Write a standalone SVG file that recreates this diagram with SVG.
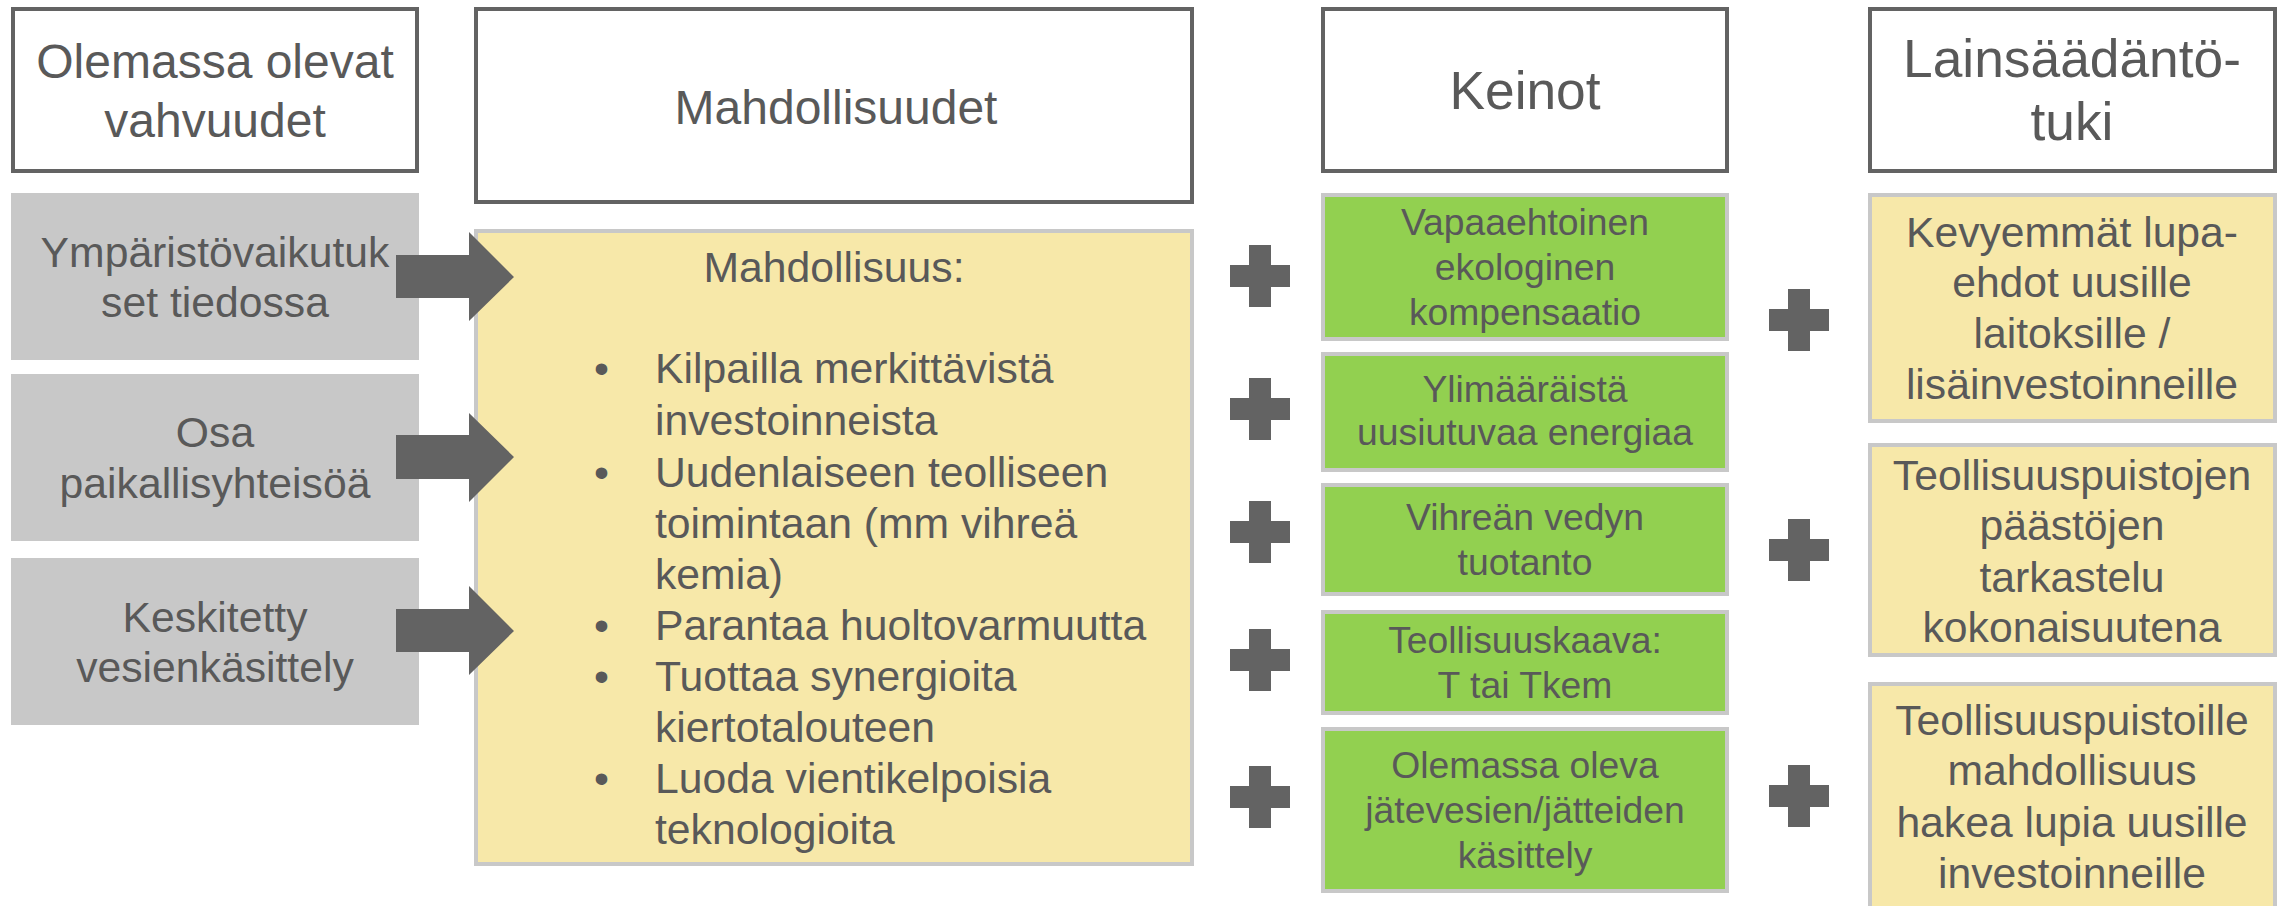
<svg xmlns="http://www.w3.org/2000/svg" xmlns:xlink="http://www.w3.org/1999/xlink" width="2285" height="906" viewBox="0 0 2285 906">
<style>
text{font-family:"Liberation Sans",Arial,sans-serif;fill:#595959;}
.c{text-anchor:middle;}
.hdr{fill:#ffffff;stroke:#636363;stroke-width:4;}
.gray{fill:#c8c8c8;}
.yel{fill:#f7e8a9;stroke:#c8c8c8;stroke-width:4;}
.grn{fill:#92d050;stroke:#c8c8c8;stroke-width:4;}
.h48{font-size:48px;}
.h53{font-size:53.3px;}
.t43{font-size:42.7px;}
.t37{font-size:37.3px;}
.arr{fill:#636363;}
</style>
<defs>
<path id="plus" d="M-11,-31 H11 V-11 H30 V11 H11 V31 H-11 V11 H-30 V-11 H-11 Z" fill="#636363"/>
</defs>
<rect width="2285" height="906" fill="#ffffff"/>

<g id="hdr-vahvuudet">
<rect class="hdr" x="13" y="9" width="404" height="162"/>
<text class="c h48" x="215" y="78">Olemassa olevat</text>
<text class="c h48" x="215" y="137">vahvuudet</text>
</g>
<g id="hdr-mahdollisuudet">
<rect class="hdr" x="476" y="9" width="716" height="193"/>
<text class="c h48" x="836" y="124">Mahdollisuudet</text>
</g>
<g id="hdr-keinot">
<rect class="hdr" x="1323" y="9" width="404" height="162"/>
<text class="c h53" x="1525" y="109">Keinot</text>
</g>
<g id="hdr-lainsaadanto">
<rect class="hdr" x="1870" y="9" width="405" height="162"/>
<text class="c h53" x="2072" y="77">Lainsäädäntö-</text>
<text class="c h53" x="2072" y="140">tuki</text>
</g>

<g id="s1">
<rect class="gray" x="11" y="193" width="408" height="167"/>
<text class="c t43" x="215" y="267">Ympäristövaikutuk</text>
<text class="c t43" x="215" y="317">set tiedossa</text>
</g>
<g id="s2">
<rect class="gray" x="11" y="374" width="408" height="167"/>
<text class="c t43" x="215" y="447">Osa</text>
<text class="c t43" x="215" y="498">paikallisyhteisöä</text>
</g>
<g id="s3">
<rect class="gray" x="11" y="558" width="408" height="167"/>
<text class="c t43" x="215" y="632">Keskitetty</text>
<text class="c t43" x="215" y="682">vesienkäsittely</text>
</g>

<g id="mahdollisuus">
<rect class="yel" x="476" y="231" width="716" height="633"/>
<text class="c t43" x="834" y="282">Mahdollisuus:</text>
<text class="t43" x="594" y="383">•</text>
<text class="t43" x="655" y="383">Kilpailla merkittävistä</text>
<text class="t43" x="655" y="435">investoinneista</text>
<text class="t43" x="594" y="487">•</text>
<text class="t43" x="655" y="487">Uudenlaiseen teolliseen</text>
<text class="t43" x="655" y="538">toimintaan (mm vihreä</text>
<text class="t43" x="655" y="589">kemia)</text>
<text class="t43" x="594" y="640">•</text>
<text class="t43" x="655" y="640">Parantaa huoltovarmuutta</text>
<text class="t43" x="594" y="691">•</text>
<text class="t43" x="655" y="691">Tuottaa synergioita</text>
<text class="t43" x="655" y="742">kiertotalouteen</text>
<text class="t43" x="594" y="793">•</text>
<text class="t43" x="655" y="793">Luoda vientikelpoisia</text>
<text class="t43" x="655" y="844">teknologioita</text>
</g>

<g id="k1">
<rect class="grn" x="1323" y="195" width="404" height="144"/>
<text class="c t37" x="1525" y="235">Vapaaehtoinen</text>
<text class="c t37" x="1525" y="280">ekologinen</text>
<text class="c t37" x="1525" y="325">kompensaatio</text>
</g>
<g id="k2">
<rect class="grn" x="1323" y="354" width="404" height="116"/>
<text class="c t37" x="1525" y="402">Ylimääräistä</text>
<text class="c t37" x="1525" y="445">uusiutuvaa energiaa</text>
</g>
<g id="k3">
<rect class="grn" x="1323" y="485" width="404" height="109"/>
<text class="c t37" x="1525" y="530">Vihreän vedyn</text>
<text class="c t37" x="1525" y="575">tuotanto</text>
</g>
<g id="k4">
<rect class="grn" x="1323" y="612" width="404" height="101"/>
<text class="c t37" x="1525" y="653">Teollisuuskaava:</text>
<text class="c t37" x="1525" y="698">T tai Tkem</text>
</g>
<g id="k5">
<rect class="grn" x="1323" y="729" width="404" height="162"/>
<text class="c t37" x="1525" y="778">Olemassa oleva</text>
<text class="c t37" x="1525" y="823">jätevesien/jätteiden</text>
<text class="c t37" x="1525" y="868">käsittely</text>
</g>

<g id="l1">
<rect class="yel" x="1870" y="195" width="405" height="226"/>
<text class="c t43" x="2072" y="247">Kevyemmät lupa-</text>
<text class="c t43" x="2072" y="297">ehdot uusille</text>
<text class="c t43" x="2072" y="348">laitoksille /</text>
<text class="c t43" x="2072" y="399">lisäinvestoinneille</text>
</g>
<g id="l2">
<rect class="yel" x="1870" y="445" width="405" height="210"/>
<text class="c t43" x="2072" y="490">Teollisuuspuistojen</text>
<text class="c t43" x="2072" y="540">päästöjen</text>
<text class="c t43" x="2072" y="592">tarkastelu</text>
<text class="c t43" x="2072" y="642">kokonaisuutena</text>
</g>
<g id="l3">
<rect class="yel" x="1870" y="684" width="405" height="240"/>
<text class="c t43" x="2072" y="735">Teollisuuspuistoille</text>
<text class="c t43" x="2072" y="785">mahdollisuus</text>
<text class="c t43" x="2072" y="837">hakea lupia uusille</text>
<text class="c t43" x="2072" y="888">investoinneille</text>
</g>

<g id="connectors">
<polygon class="arr" points="396,255 469,255 469,232 514,277 469,321 469,298 396,298"/>
<polygon class="arr" points="396,435 469,435 469,413 514,457 469,502 469,479 396,479"/>
<polygon class="arr" points="396,609 469,609 469,586 514,631 469,675 469,652 396,652"/>
</g>

<g id="operators">
<use xlink:href="#plus" x="1260" y="276"/>
<use xlink:href="#plus" x="1260" y="409"/>
<use xlink:href="#plus" x="1260" y="532"/>
<use xlink:href="#plus" x="1260" y="660"/>
<use xlink:href="#plus" x="1260" y="797"/>
<use xlink:href="#plus" x="1799" y="320"/>
<use xlink:href="#plus" x="1799" y="550"/>
<use xlink:href="#plus" x="1799" y="796"/>
</g>
</svg>
